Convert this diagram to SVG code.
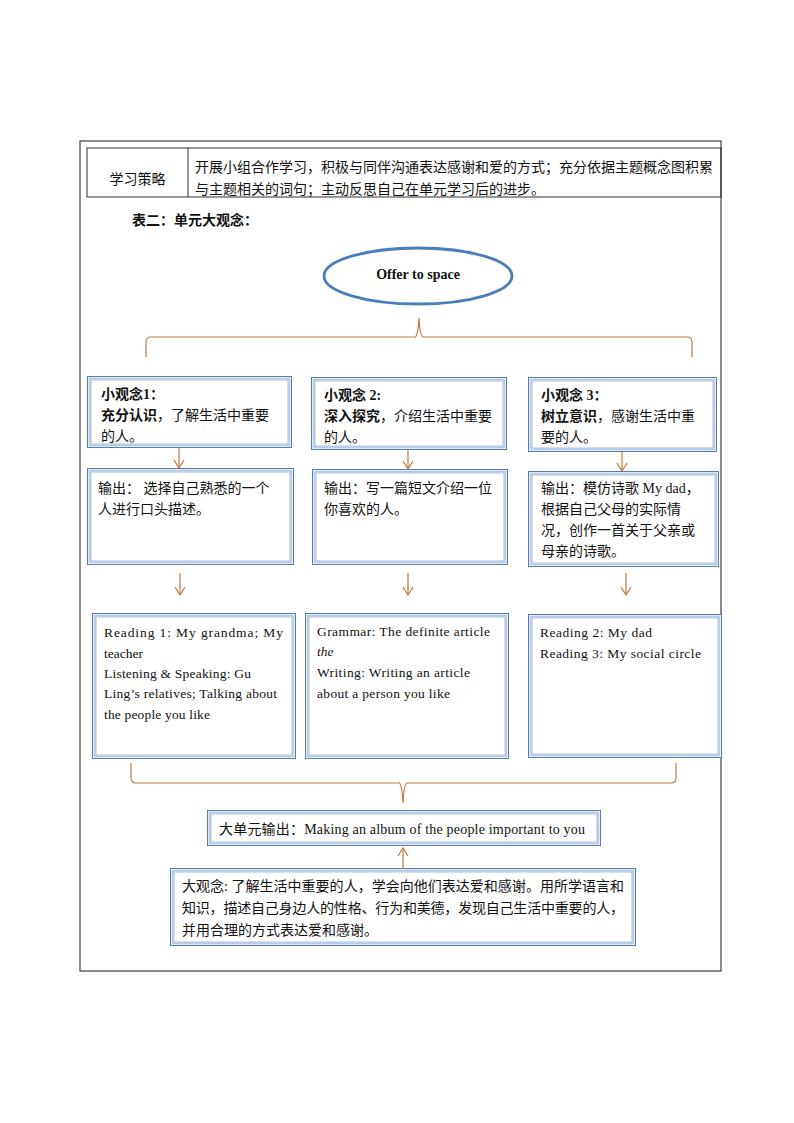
<svg xmlns="http://www.w3.org/2000/svg" width="794" height="1123" viewBox="0 0 794 1123">
<defs>
<style>
.bg{fill:#ffffff}
.frame{fill:none;stroke:#1a1a1a;stroke-width:1}
.cell{fill:none;stroke:#1a1a1a;stroke-width:0.9}
.bo{fill:#ffffff;stroke:#5b7ca5;stroke-width:1}
.bb{fill:none;stroke:#b3cbe8;stroke-width:1.8}
.bi{fill:none;stroke:#7592ba;stroke-width:0.6}
.con{fill:none;stroke:#c0773b;stroke-width:1.2}
.t{font-family:"Liberation Serif","Noto Sans CJK SC",serif;font-size:14px;fill:#111}
.c{font-family:"Noto Sans CJK SC","Liberation Sans",sans-serif;font-size:14px;fill:#111}
.b{font-weight:bold}
.e{font-family:"Liberation Serif","Noto Sans CJK SC",serif;font-size:13.5px;fill:#111}
</style>
<marker id="ah" viewBox="0 0 10 12" refX="9" refY="6" markerWidth="10" markerHeight="12" markerUnits="userSpaceOnUse" orient="auto">
<path d="M1,1 L9,6 L1,11" fill="none" stroke="#c0773b" stroke-width="1.2"/>
</marker>
</defs>
<rect class="bg" x="0" y="0" width="794" height="1123"/>

<g id="frame">
<rect class="frame" x="80" y="141" width="641" height="830"/>
</g>

<g id="strategy-table">
<rect class="cell" x="87" y="148" width="634" height="49"/>
<line class="cell" x1="188" y1="148" x2="188" y2="197"/>
<text class="c" x="137.5" y="184" text-anchor="middle">学习策略</text>
<text class="c" x="195" y="172" textLength="518" lengthAdjust="spacing">开展小组合作学习，积极与同伴沟通表达感谢和爱的方式；充分依据主题概念图积累</text>
<text class="c" x="195" y="194">与主题相关的词句；主动反思自己在单元学习后的进步。</text>
</g>

<g id="heading">
<text class="c b" x="132" y="225" font-size="13">表二：单元大观念：</text>
</g>

<g id="topic">
<ellipse cx="418" cy="276" rx="94" ry="28" fill="#ffffff" stroke="#4a7ebb" stroke-width="2.8"/>
<text class="t b" x="418" y="279" text-anchor="middle" font-size="14.5">Offer to space</text>
</g>

<g id="connectors">
<path class="con" d="M146,357 L146,342 Q146,337 151,337 L415,337 Q418,336 419,318 Q420,336 423,337 L687,337 Q692,337 692,342 L692,357"/>
<line class="con" x1="179" y1="447" x2="179" y2="468" marker-end="url(#ah)"/>
<line class="con" x1="408" y1="449" x2="408" y2="469" marker-end="url(#ah)"/>
<line class="con" x1="622" y1="452" x2="622" y2="471" marker-end="url(#ah)"/>
<line class="con" x1="180" y1="573" x2="180" y2="595" marker-end="url(#ah)"/>
<line class="con" x1="408" y1="573" x2="408" y2="595" marker-end="url(#ah)"/>
<line class="con" x1="626" y1="573" x2="626" y2="595" marker-end="url(#ah)"/>
<path class="con" d="M131,763 L131,778 Q131,783 136,783 L399,783 Q402,784 403,803 Q404,784 407,783 L671,783 Q676,783 676,778 L676,763"/>
<line class="con" x1="403" y1="868" x2="403" y2="848" marker-end="url(#ah)"/>
</g>

<g id="idea1">
<rect class="bo" x="87.5" y="376.5" width="204" height="71"/>
<rect class="bb" x="89.5" y="378.5" width="200" height="67"/>
<rect class="bi" x="91" y="380" width="197" height="64"/>
<text class="t b" x="101" y="399">小观念1：</text>
<text class="t" x="101" y="420"><tspan class="b">充分认识</tspan>，了解生活中重要</text>
<text class="t" x="101" y="441">的人。</text>
</g>

<g id="idea2">
<rect class="bo" x="311.5" y="377.5" width="195" height="72"/>
<rect class="bb" x="313.5" y="379.5" width="191" height="68"/>
<rect class="bi" x="315" y="381" width="188" height="65"/>
<text class="t b" x="324" y="400">小观念 2:</text>
<text class="t" x="324" y="421"><tspan class="b">深入探究</tspan>，介绍生活中重要</text>
<text class="t" x="324" y="442">的人。</text>
</g>

<g id="idea3">
<rect class="bo" x="528.5" y="377.5" width="188" height="74"/>
<rect class="bb" x="530.5" y="379.5" width="184" height="70"/>
<rect class="bi" x="532" y="381" width="181" height="67"/>
<text class="t b" x="541" y="400">小观念 3：</text>
<text class="t" x="541" y="421"><tspan class="b">树立意识</tspan>，感谢生活中重</text>
<text class="t" x="541" y="442">要的人。</text>
</g>

<g id="output1">
<rect class="bo" x="87.5" y="468.5" width="206" height="96"/>
<rect class="bb" x="89.5" y="470.5" width="202" height="92"/>
<rect class="bi" x="91" y="472" width="199" height="89"/>
<text class="t" x="98" y="493">输出： 选择自己熟悉的一个</text>
<text class="t" x="98" y="514">人进行口头描述。</text>
</g>

<g id="output2">
<rect class="bo" x="312.5" y="469.5" width="195" height="95"/>
<rect class="bb" x="314.5" y="471.5" width="191" height="91"/>
<rect class="bi" x="316" y="473" width="188" height="88"/>
<text class="t" x="324" y="493">输出：写一篇短文介绍一位</text>
<text class="t" x="324" y="514">你喜欢的人。</text>
</g>

<g id="output3">
<rect class="bo" x="528.5" y="471.5" width="190" height="95"/>
<rect class="bb" x="530.5" y="473.5" width="186" height="91"/>
<rect class="bi" x="532" y="475" width="183" height="88"/>
<text class="t" x="541" y="493">输出：模仿诗歌 My dad，</text>
<text class="t" x="541" y="514">根据自己父母的实际情</text>
<text class="t" x="541" y="535">况，创作一首关于父亲或</text>
<text class="t" x="541" y="556">母亲的诗歌。</text>
</g>

<g id="lessons1">
<rect class="bo" x="92.5" y="613.5" width="203" height="145"/>
<rect class="bb" x="94.5" y="615.5" width="199" height="141"/>
<rect class="bi" x="96" y="617" width="196" height="138"/>
<text class="e" x="104" y="637" textLength="179" lengthAdjust="spacing">Reading 1: My grandma; My</text>
<text class="e" x="104" y="658">teacher</text>
<text class="e" x="104" y="678" textLength="147" lengthAdjust="spacing">Listening &amp; Speaking: Gu</text>
<text class="e" x="104" y="698" textLength="173" lengthAdjust="spacing">Ling’s relatives; Talking about</text>
<text class="e" x="104" y="719" textLength="106" lengthAdjust="spacing">the people you like</text>
</g>

<g id="lessons2">
<rect class="bo" x="305.5" y="613.5" width="203" height="145"/>
<rect class="bb" x="307.5" y="615.5" width="199" height="141"/>
<rect class="bi" x="309" y="617" width="196" height="138"/>
<text class="e" x="317" y="636" textLength="173" lengthAdjust="spacing">Grammar: The definite article</text>
<text class="e" x="317" y="656" font-style="italic">the</text>
<text class="e" x="317" y="677" textLength="153" lengthAdjust="spacing">Writing: Writing an article</text>
<text class="e" x="317" y="698" textLength="133" lengthAdjust="spacing">about a person you like</text>
</g>

<g id="lessons3">
<rect class="bo" x="528.5" y="614.5" width="193" height="143"/>
<rect class="bb" x="530.5" y="616.5" width="189" height="139"/>
<rect class="bi" x="532" y="618" width="186" height="136"/>
<text class="e" x="540" y="637" textLength="112" lengthAdjust="spacing">Reading 2: My dad</text>
<text class="e" x="540" y="658" textLength="161" lengthAdjust="spacing">Reading 3: My social circle</text>
</g>

<g id="unit-output">
<rect class="bo" x="207.5" y="810.5" width="393" height="35"/>
<rect class="bb" x="209.5" y="812.5" width="389" height="31"/>
<rect class="bi" x="211" y="814" width="386" height="28"/>
<text class="t" x="219" y="834" textLength="366" lengthAdjust="spacing">大单元输出：Making an album of the people important to you</text>
</g>

<g id="big-idea">
<rect class="bo" x="170.5" y="868.5" width="465" height="77"/>
<rect class="bb" x="172.5" y="870.5" width="461" height="73"/>
<rect class="bi" x="174" y="872" width="458" height="70"/>
<text class="t" x="182" y="891" textLength="442" lengthAdjust="spacing">大观念: 了解生活中重要的人，学会向他们表达爱和感谢。用所学语言和</text>
<text class="t" x="182" y="913" textLength="442" lengthAdjust="spacing">知识，描述自己身边人的性格、行为和美德，发现自己生活中重要的人，</text>
<text class="t" x="182" y="935">并用合理的方式表达爱和感谢。</text>
</g>
</svg>
